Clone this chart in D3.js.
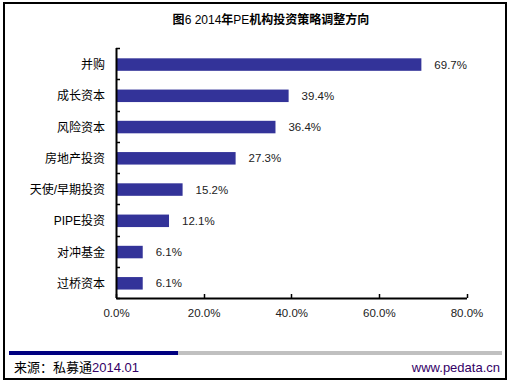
<!DOCTYPE html>
<html><head><meta charset="utf-8">
<script src="https://cdn.jsdelivr.net/npm/d3@7"></script>
<style>html,body{margin:0;padding:0;background:#fff;}svg{display:block;}</style>
</head><body>
<script>
const categories = ["并购","成长资本","风险资本","房地产投资","天使/早期投资","PIPE投资","对冲基金","过桥资本"];
const values = [69.7, 39.4, 36.4, 27.3, 15.2, 12.1, 6.1, 6.1];
const xTicks = [0, 20, 40, 60, 80];
const titleParts = ["图", "6 2014", "年", "PE", "机构投资策略调整方向"];
const sourceLabel = "来源：私募通";
const sourceDate = "2014.01";
const site = "www.pedata.cn";

const W = 512, H = 383;
const svg = d3.select("body").append("svg").attr("width", W).attr("height", H);
const font = "Arial, 'Liberation Sans', 'Noto Sans CJK SC', sans-serif";

// outer border
svg.append("rect").attr("x", 4).attr("y", 3).attr("width", 502).attr("height", 376)
  .attr("fill", "#fff").attr("stroke", "#000").attr("stroke-width", 2);

// title (CJK parts bold, latin parts regular)
const t = svg.append("text").attr("x", 271).attr("y", 24).attr("text-anchor", "middle")
  .attr("font-family", font).attr("font-size", 12).attr("fill", "#000");
titleParts.forEach((p, i) => {
  t.append("tspan").attr("font-weight", i % 2 === 0 ? "bold" : "normal").text(p);
});

const x = d3.scaleLinear().domain([0, 80]).range([116, 466.5]);
const y = d3.scaleBand().domain(categories).range([48, 298])
  .paddingInner(0.6).paddingOuter(0.3).align(0.55);

// bars
svg.selectAll("rect.bar").data(values).enter().append("rect").attr("class", "bar")
  .attr("x", x(0)).attr("y", (d, i) => y(categories[i]))
  .attr("width", d => x(d) - x(0)).attr("height", y.bandwidth())
  .attr("fill", "#333399");

// value labels
svg.selectAll("text.val").data(values).enter().append("text").attr("class", "val")
  .attr("x", d => x(d) + 13).attr("y", (d, i) => y(categories[i]) + y.bandwidth() / 2 + 4)
  .attr("font-family", font).attr("font-size", 11.5).attr("fill", "#222")
  .text(d => d.toFixed(1) + "%");

// category labels
svg.selectAll("text.cat").data(categories).enter().append("text").attr("class", "cat")
  .attr("x", 105).attr("y", d => y(d) + y.bandwidth() / 2 + 4.5)
  .attr("text-anchor", "end").attr("font-family", font).attr("font-size", 12)
  .attr("fill", "#000").text(d => d);

// y axis line and ticks at band boundaries
const yTop = 48, yBot = 298;
svg.append("line").attr("x1", 116.5).attr("x2", 116.5).attr("y1", yTop).attr("y2", yBot)
  .attr("stroke", "#000").attr("stroke-width", 2);
d3.range(categories.length + 1).forEach(i => {
  const yy = Math.round(yTop + i * (yBot - yTop) / categories.length) + 0.5;
  svg.append("line").attr("x1", 116).attr("x2", 120).attr("y1", yy).attr("y2", yy)
    .attr("stroke", "#000").attr("stroke-width", 1.5);
});

// x axis
const xAxis = d3.axisBottom(x).tickValues(xTicks).tickSize(0).tickPadding(0)
  .tickFormat(d => d.toFixed(1) + "%");
const gx = svg.append("g").attr("transform", `translate(0,${yBot})`).call(xAxis);
gx.select(".domain").attr("stroke", "#000").attr("stroke-width", 2);
gx.selectAll(".tick line").remove();
gx.selectAll(".tick text").attr("y", 11).attr("font-family", font).attr("font-size", 11.5)
  .attr("fill", "#222");
xTicks.forEach(v => {
  svg.append("line").attr("x1", Math.round(x(v)) + 0.5).attr("x2", Math.round(x(v)) + 0.5)
    .attr("y1", yBot).attr("y2", yBot - 4).attr("stroke", "#000").attr("stroke-width", 1.5);
});

// footer bars
svg.append("rect").attr("x", 9).attr("y", 351).attr("width", 493).attr("height", 4).attr("fill", "#c0c0c0");
svg.append("rect").attr("x", 9).attr("y", 351).attr("width", 169).attr("height", 4).attr("fill", "#000080");

// footer texts
const src = svg.append("text").attr("x", 14).attr("y", 372).attr("font-family", font)
  .attr("font-size", 13).attr("fill", "#000");
src.append("tspan").text(sourceLabel);
src.append("tspan").attr("fill", "#330066").text(sourceDate);
svg.append("text").attr("x", 500).attr("y", 372).attr("text-anchor", "end")
  .attr("font-family", font).attr("font-size", 13).attr("fill", "#330066").text(site);
</script>
</body></html>
